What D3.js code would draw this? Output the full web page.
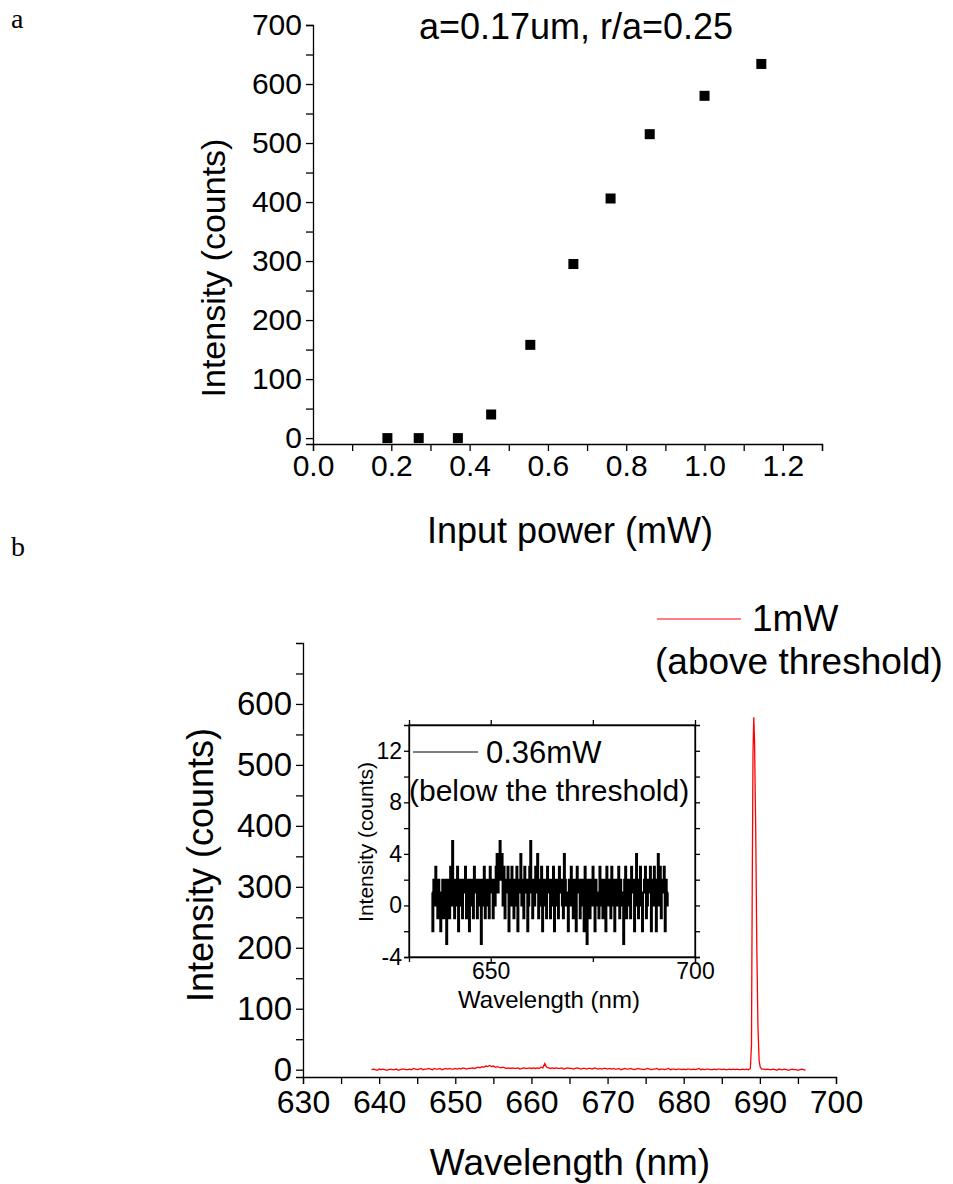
<!DOCTYPE html>
<html>
<head>
<meta charset="utf-8">
<script src="https://cdn.jsdelivr.net/npm/d3@7/dist/d3.min.js"></script>
<style>
  html, body { margin: 0; padding: 0; background: #fff; }
  svg text { font-family: 'Liberation Sans', Arial, sans-serif; fill: #000; }
  .axis path, .axis line { stroke: #000; stroke-width: 1.3; }
  .axis text { font-family: 'Liberation Sans', Arial, sans-serif; }
</style>
</head>
<body>
<svg id="chart" width="953" height="1184"></svg>
<script>
// ---- panel a: threshold curve ----
const powerMW = [0.19, 0.27, 0.37, 0.455, 0.555, 0.665, 0.76, 0.86, 1.0, 1.145];
const intensityCounts = [0, 0, 0, 40, 158, 295, 406, 515, 580, 634];
const aXTicks = [0, 0.2, 0.4, 0.6, 0.8, 1.0, 1.2];
const aYTicks = [0, 100, 200, 300, 400, 500, 600, 700];

// ---- panel b: spectrum at 1mW (red) ----
const redBaseStart = 639; // nm, sampled every 0.25 nm
const redBaseStep = 0.25;
const redBase = [
  0, 1, 0, -1, 1, 0, 1, 0, -1, 0, 1, 0, 0, 1, -1, 0, 1, 1, 0, 0, 1, 0, 2, 1, 0, 1, 2, 0, 1, 1, 2, 1, 0, 2, 1, 1, 2, 0, 1, 2, 1, 2, 1, 1,
  2, 1, 2, 1, 3, 2, 1, 2, 2, 3, 2, 3, 4, 3, 5, 4, 6, 5, 7, 5, 6, 4, 5, 4, 3, 4, 3, 2, 3, 2, 3, 2, 2, 3, 1, 2, 3, 2, 2, 3,
  2, 3, 2, 3, 2, 4, 3, 10, 4, 3, 2, 3, 2, 3, 2, 2, 3, 1, 2, 3, 2, 2, 1, 2, 3, 2, 1, 2, 2, 1, 2, 2, 1, 3, 2, 1, 2, 1, 2, 2,
  1, 2, 1, 2, 1, 1, 2, 0, 1, 2, 1, 1, 2, 1, 0, 1, 2, 1, 1, 0, 1, 2, 1, 0, 1, 1, 2, 0, 1, 1, 0, 1, 2, 0, 1, 1, 0, 1, 1, 0,
  1, 0, 1, 1, 0, 1, 0, 1, 2, 0, 1, 0, 1, 1, 0, 0, 1, 0, 1, 1, 0, 1, 0, 0, 1, 0, 1, 0, 1, 0, 0, 1, 0, 1, 0
];
const redPeak = [
  [688.75, 2], [688.9, 40], [689.0, 300], [689.1, 520], [689.2, 578], [689.3, 540],
  [689.45, 400], [689.6, 200], [689.75, 70], [689.9, 15], [690.05, 4], [690.25, 1]
];
const redTailStart = 690.5;
const redTail = [1, 0, 1, 0, 0, 1, 0, -1, 1, 0, 0, 1, 0, -1, 0, 1, 0, 0, -1, 0, 1, 0, -1];
const bXTicks = [630, 640, 650, 660, 670, 680, 690, 700];
const bYTicks = [0, 100, 200, 300, 400, 500, 600];

// ---- inset: spectrum at 0.36mW (black) ----
const insetStart = 635.6; // nm, sampled every 0.242 nm
const insetStep = 0.242;
const insetCounts = [
  1, -2, 2, 0, 3, 1, -1, 2, 0, -2, 1, 2, -1, 0, 2, -3, 1, 2, -1, 3,
  0, 5, 1, -1, 2, 0, 3, -2, 1, 2, 0, -1, 2, 1, 3, -1, 0, 2, -2, 1,
  2, 0, -1, 3, 1, 2, -1, 0, 2, 1, -3, 2, 0, 3, -1, 1, 2, 0, -1, 3,
  1, 2, -1, 2, 0, 3, 4, 1, 4, 5, 2, 4, 0, 3, -1, 2, 1, 3, -2, 2,
  0, 3, 1, -1, 2, 0, 3, -2, 1, 2, 4, 0, 2, -1, 3, 1, 2, -2, 0, 3,
  5, 1, -1, 2, 0, 3, 1, 4, -1, 2, 0, 3, -2, 1, 2, 0, -1, 3, 1, 2,
  -1, 0, 2, 3, -2, 1, 2, 0, -1, 3, 1, 2, 0, -1, 4, 2, 0, 1, -2, 2,
  0, 3, 1, -1, 2, 0, -2, 3, 1, 2, -1, 0, 2, 1, -2, 3, 0, -3, 2, 1,
  -1, 2, 0, 3, 1, -2, 2, 0, 1, -1, 3, 2, 0, -1, 2, 1, -2, 3, 0, 2,
  1, -1, 3, 0, 2, -2, 1, 2, 0, 3, -1, 2, 1, 0, -3, 2, 3, -1, 1, 2,
  0, -1, 3, 1, 2, -2, 0, 4, 1, -1, 2, 3, 0, -2, 1, 2, 3, -1, 0, 2,
  1, 3, -2, 2, 0, 3, 1, -2, 2, 4, 0, 3, -1, 2, 1, 3, -2, 2, 0, 1
];
const insetXTicks = [650, 700];
const insetYTicks = [-4, 0, 4, 8, 12];

const svg = d3.select('#chart');

// panel labels (serif)
svg.append('text').attr('x', 11).attr('y', 28).style('font-family', "'Liberation Serif', serif").style('font-size', '28px').text('a');
svg.append('text').attr('x', 11).attr('y', 556).style('font-family', "'Liberation Serif', serif").style('font-size', '28px').text('b');

// ================= panel a =================
const xA = d3.scaleLinear().domain([0, 1.3]).range([313, 822]);
const yA = d3.scaleLinear().domain([-10, 700]).range([444, 25]);

const aMinorX = d3.range(0, 13.5).map((i) => i / 10);
svg.append('g').attr('class', 'axis')
  .attr('transform', `translate(0,${yA(-10)})`)
  .call(d3.axisBottom(xA).tickValues(aMinorX).tickSizeOuter(0).tickSize(7).tickPadding(4)
    .tickFormat((d) => (aXTicks.some((t) => Math.abs(t - d) < 1e-9) ? d3.format('.1f')(d) : '')))
  .call((g) => g.selectAll('text').style('font-size', '30px'));

const aMinorY = d3.range(0, 701, 50);
svg.append('g').attr('class', 'axis')
  .attr('transform', `translate(${xA(0)},0)`)
  .call(d3.axisLeft(yA).tickValues(aMinorY).tickSizeOuter(0).tickSize(7).tickPadding(4)
    .tickFormat((d) => (aYTicks.includes(d) ? d : '')))
  .call((g) => g.selectAll('text').style('font-size', '30px'));

svg.selectAll('rect.pt')
  .data(powerMW.map((p, i) => [p, intensityCounts[i]]))
  .join('rect')
  .attr('class', 'pt')
  .attr('x', (d) => xA(d[0]) - 5)
  .attr('y', (d) => yA(d[1]) - 5)
  .attr('width', 10)
  .attr('height', 10)
  .attr('fill', '#000');

svg.append('text').attr('x', 576).attr('y', 39).attr('text-anchor', 'middle')
  .style('font-size', '36px').text('a=0.17um, r/a=0.25');
svg.append('text').attr('x', 570).attr('y', 543).attr('text-anchor', 'middle')
  .style('font-size', '36px').text('Input power (mW)');
svg.append('text').attr('transform', 'translate(225,268) rotate(-90)').attr('text-anchor', 'middle')
  .style('font-size', '34px').text('Intensity (counts)');

// ================= panel b =================
const xB = d3.scaleLinear().domain([630, 700]).range([303, 836]);
const yB = d3.scaleLinear().domain([-12, 700]).range([1077, 643]);

svg.append('g').attr('class', 'axis')
  .attr('transform', `translate(0,${yB(-12)})`)
  .call(d3.axisBottom(xB).tickValues(d3.range(630, 701, 5)).tickSizeOuter(0).tickSize(7).tickPadding(6)
    .tickFormat((d) => (bXTicks.includes(d) ? d : '')))
  .call((g) => g.selectAll('text').style('font-size', '32px'));

svg.append('g').attr('class', 'axis')
  .attr('transform', `translate(${xB(630)},0)`)
  .call(d3.axisLeft(yB).tickValues(d3.range(0, 651, 50)).tickSizeOuter(0).tickSize(7).tickPadding(4)
    .tickFormat((d) => (bYTicks.includes(d) ? d : '')))
  .call((g) => g.selectAll('text').style('font-size', '33px'));

const redSeries = [
  ...redBase.map((v, i) => [redBaseStart + i * redBaseStep, v]),
  ...redPeak,
  ...redTail.map((v, i) => [redTailStart + i * redBaseStep, v]),
];
const lineB = d3.line().x((d) => xB(d[0])).y((d) => yB(d[1]));
svg.append('path').datum(redSeries)
  .attr('fill', 'none').attr('stroke', '#ff0000').attr('stroke-width', 1.3).attr('d', lineB);

svg.append('text').attr('transform', 'translate(213,865) rotate(-90)').attr('text-anchor', 'middle')
  .style('font-size', '36px').text('Intensity (counts)');
svg.append('text').attr('x', 570).attr('y', 1175).attr('text-anchor', 'middle')
  .style('font-size', '37px').text('Wavelength (nm)');

// legend
svg.append('line').attr('x1', 657).attr('x2', 741).attr('y1', 619).attr('y2', 619)
  .attr('stroke', '#ff0000').attr('stroke-width', 1.2);
svg.append('text').attr('x', 752).attr('y', 631).style('font-size', '37px').text('1mW');
svg.append('text').attr('x', 655).attr('y', 674).style('font-size', '37px').text('(above threshold)');

// ================= inset =================
const xI = d3.scaleLinear().domain([630, 700]).range([409, 695]);
const yI = d3.scaleLinear().domain([-4, 14]).range([957, 725]);
const inset = svg.append('g');
inset.append('rect').attr('x', 409).attr('y', 725).attr('width', 286).attr('height', 232)
  .attr('fill', '#fff').attr('stroke', '#000').attr('stroke-width', 1.2);

const insetMinorY = d3.range(-4, 13, 2);
inset.append('g').attr('class', 'axis').attr('transform', `translate(${xI(630)},0)`)
  .call(d3.axisLeft(yI).tickValues(insetMinorY).tickSizeOuter(0).tickSize(5).tickPadding(2)
    .tickFormat((d) => (insetYTicks.includes(d) ? d : '')))
  .call((g) => g.selectAll('text').style('font-size', '23px'));
inset.append('g').attr('class', 'axis').attr('transform', `translate(${xI(700)},0)`)
  .call(d3.axisLeft(yI).tickValues(insetMinorY).tickSizeOuter(0).tickSize(-5).tickFormat(''));
inset.append('g').attr('class', 'axis').attr('transform', `translate(0,${yI(-4)})`)
  .call(d3.axisBottom(xI).tickValues([650, 675, 700]).tickSizeOuter(0).tickSize(5).tickPadding(1)
    .tickFormat((d) => (insetXTicks.includes(d) ? d : '')))
  .call((g) => g.selectAll('text').style('font-size', '23px'));
inset.append('g').attr('class', 'axis').attr('transform', `translate(0,${yI(14)})`)
  .call(d3.axisBottom(xI).tickValues([650, 675]).tickSizeOuter(0).tickSize(-5).tickFormat(''));

const insetSeries = insetCounts.map((v, i) => [insetStart + i * insetStep, v]);
const lineI = d3.line().x((d) => xI(d[0])).y((d) => yI(d[1])).curve(d3.curveStep);
inset.append('path').datum(insetSeries)
  .attr('fill', 'none').attr('stroke', '#000').attr('stroke-width', 2).attr('d', lineI);

inset.append('line').attr('x1', 413).attr('x2', 478).attr('y1', 752).attr('y2', 752)
  .attr('stroke', '#000').attr('stroke-width', 1);
inset.append('text').attr('x', 486).attr('y', 763).style('font-size', '31px').text('0.36mW');
inset.append('text').attr('x', 409).attr('y', 801).style('font-size', '30px').text('(below the threshold)');

inset.append('text').attr('transform', 'translate(373,842) rotate(-90)').attr('text-anchor', 'middle')
  .style('font-size', '21px').text('Intensity (counts)');
inset.append('text').attr('x', 549).attr('y', 1008).attr('text-anchor', 'middle')
  .style('font-size', '24px').text('Wavelength (nm)');
</script>
</body>
</html>
